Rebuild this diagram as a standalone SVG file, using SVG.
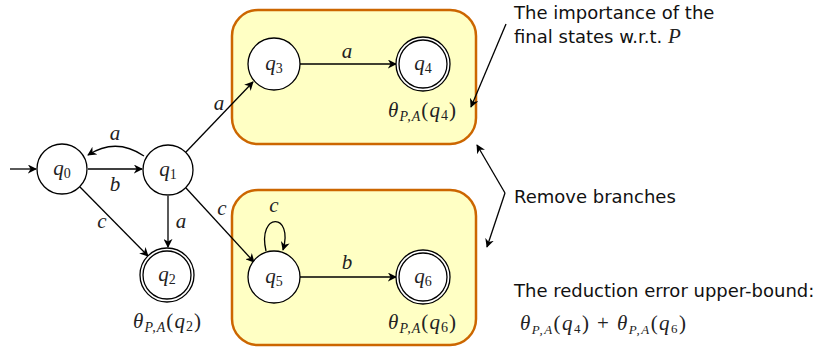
<svg xmlns="http://www.w3.org/2000/svg" width="820" height="349" viewBox="0 0 820 349">
<defs>
<marker id="ah" viewBox="0 0 10 10" refX="9" refY="5" markerWidth="9" markerHeight="9" markerUnits="userSpaceOnUse" orient="auto">
<path d="M0,0 L10,5 L0,10 L3,5 Z" fill="#000"/>
</marker>
</defs>
<style>
.st{fill:#fff;stroke:#000;stroke-width:1.3}
.box{fill:#ffffc4;stroke:#cc6600;stroke-width:2.5}
.e{fill:none;stroke:#000;stroke-width:1.3;marker-end:url(#ah)}
.m{font-family:"Liberation Serif","DejaVu Serif",serif;font-style:italic;font-size:21px;fill:#222}
.n{font-style:normal}
.s{font-size:14px}
.t{font-family:"DejaVu Sans","Liberation Sans",sans-serif;font-size:18px;fill:#111}
</style>
<rect class="box" x="232" y="10" width="244" height="134" rx="26"/>
<rect class="box" x="232" y="190" width="244" height="155" rx="26"/>
<g id="connectors">
<path class="e" d="M10,169 L36,169"/>
<path class="e" d="M88,169 L142,169"/>
<path class="e" d="M144,156 Q116,137 88,155"/>
<path class="e" d="M80,187 L148,256"/>
<path class="e" d="M168,196 L168,247"/>
<path class="e" d="M186,152 L253,82"/>
<path class="e" d="M186,188 L254,262"/>
<path class="e" d="M300,64 L396,64"/>
<path class="e" d="M266,251 C257,212 294,212 283,250"/>
<path class="e" d="M300,277 L396,277"/>
<path class="e" d="M506,24 L471,107"/>
<path class="e" d="M505,193 L477,145"/>
<path class="e" d="M505,193 L487,247"/>
<text class="m" x="115" y="140" text-anchor="middle">a</text>
<text class="m" x="115" y="191" text-anchor="middle">b</text>
<text class="m" x="102" y="228" text-anchor="middle">c</text>
<text class="m" x="181" y="228" text-anchor="middle">a</text>
<text class="m" x="219" y="110" text-anchor="middle">a</text>
<text class="m" x="222" y="215" text-anchor="middle">c</text>
<text class="m" x="347" y="58" text-anchor="middle">a</text>
<text class="m" x="274" y="212" text-anchor="middle">c</text>
<text class="m" x="347" y="269" text-anchor="middle">b</text>
</g>
<g id="q0"><circle class="st" cx="62" cy="169" r="25"/><text class="m" x="62" y="175" text-anchor="middle">q<tspan class="n s" dy="3">0</tspan></text></g>
<g id="q1"><circle class="st" cx="168" cy="170" r="25"/><text class="m" x="168" y="176" text-anchor="middle">q<tspan class="n s" dy="3">1</tspan></text></g>
<g id="q2"><circle class="st" cx="167" cy="275" r="27"/><circle class="st" cx="167" cy="275" r="24"/><text class="m" x="167" y="281" text-anchor="middle">q<tspan class="n s" dy="3">2</tspan></text>
<text class="m" x="133" y="328" textLength="68" lengthAdjust="spacing">θ<tspan class="s" dy="4">P,A</tspan><tspan class="n" dy="-4">(</tspan>q<tspan class="n s" dy="3">2</tspan><tspan class="n" dy="-3">)</tspan></text></g>
<g id="q3"><circle class="st" cx="274" cy="64" r="26"/><text class="m" x="274" y="70" text-anchor="middle">q<tspan class="n s" dy="3">3</tspan></text></g>
<g id="q4"><circle class="st" cx="423" cy="64" r="27"/><circle class="st" cx="423" cy="64" r="24"/><text class="m" x="423" y="70" text-anchor="middle">q<tspan class="n s" dy="3">4</tspan></text>
<text class="m" x="388" y="117" textLength="68" lengthAdjust="spacing">θ<tspan class="s" dy="4">P,A</tspan><tspan class="n" dy="-4">(</tspan>q<tspan class="n s" dy="3">4</tspan><tspan class="n" dy="-3">)</tspan></text></g>
<g id="q5"><circle class="st" cx="274" cy="277" r="26"/><text class="m" x="274" y="283" text-anchor="middle">q<tspan class="n s" dy="3">5</tspan></text></g>
<g id="q6"><circle class="st" cx="423" cy="277" r="27"/><circle class="st" cx="423" cy="277" r="24"/><text class="m" x="423" y="283" text-anchor="middle">q<tspan class="n s" dy="3">6</tspan></text>
<text class="m" x="388" y="329" textLength="68" lengthAdjust="spacing">θ<tspan class="s" dy="4">P,A</tspan><tspan class="n" dy="-4">(</tspan>q<tspan class="n s" dy="3">6</tspan><tspan class="n" dy="-3">)</tspan></text></g>
<g id="notes">
<text class="t" x="514" y="19">The importance of the</text>
<text class="t" x="514" y="43">final states w.r.t. <tspan class="m" font-size="21">P</tspan></text>
<text class="t" x="514" y="203">Remove branches</text>
<text class="t" x="514" y="297">The reduction error upper-bound:</text>
<text class="m" x="520" y="330" font-size="19" textLength="166" lengthAdjust="spacing">θ<tspan font-size="13" dy="4">P,A</tspan><tspan class="n" dy="-4">(</tspan>q<tspan class="n" font-size="13" dy="3">4</tspan><tspan class="n" dy="-3">) + </tspan>θ<tspan font-size="13" dy="4">P,A</tspan><tspan class="n" dy="-4">(</tspan>q<tspan class="n" font-size="13" dy="3">6</tspan><tspan class="n" dy="-3">)</tspan></text>
</g>
</svg>
